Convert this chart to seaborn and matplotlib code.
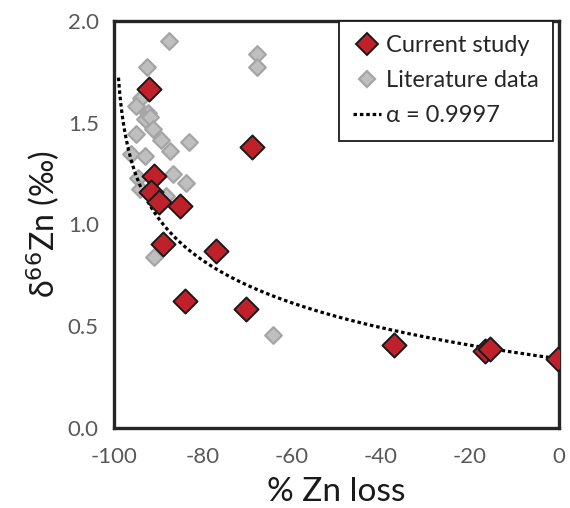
import numpy as np
import pandas as pd
import matplotlib
matplotlib.use("Agg")
import matplotlib.pyplot as plt
import seaborn as sns
from matplotlib.lines import Line2D

# ---- data ----
current_x = [-92.2, -69.1, -90.9, -91.6, -89.8, -85.2, -89.0, -77.0, -84.1, -70.4,
             -37.1, -16.6, -15.4, -0.2]
current_y = [1.665, 1.383, 1.238, 1.160, 1.112, 1.090, 0.906, 0.868, 0.622, 0.585,
             0.409, 0.376, 0.389, 0.338]

lit_x = [-87.7, -67.8, -67.8, -92.6, -93.9, -95.0, -92.4, -93.1, -92.0, -91.3,
         -95.0, -89.4, -83.2, -96.1, -93.1, -87.4, -94.6, -86.8, -83.8, -94.1,
         -88.3, -90.9, -64.3]
lit_y = [1.900, 1.837, 1.772, 1.772, 1.624, 1.580, 1.550, 1.520, 1.530, 1.470,
         1.443, 1.415, 1.407, 1.345, 1.336, 1.361, 1.230, 1.246, 1.205, 1.176,
         1.140, 0.841, 0.458]

# Rayleigh model parameters (stated in the legend)
alpha = 0.9997
delta0 = 0.34
model_start = -99.0

x_ticks = [-100, -80, -60, -40, -20, 0]
y_ticks = [0.0, 0.5, 1.0, 1.5, 2.0]
legend_labels = ["Current study", "Literature data", "α = 0.9997"]

# ---- style ----
sns.set_theme(style="white")
plt.rcParams['font.family'] = ['Lato', 'Open Sans', 'DejaVu Sans']

RED = "#C0202A"
GRAY = "#BFBFBF"
GRAY_EDGE = "#A5A5A5"
DOT = (0, (1.1, 0.9))

fig = plt.figure(figsize=(5.70, 5.08), dpi=100)
ax = fig.add_axes([114/570, 1 - 428/508, 445/570, 407/508])

df_cur = pd.DataFrame({"x": current_x, "y": current_y})
df_lit = pd.DataFrame({"x": lit_x, "y": lit_y})

sns.scatterplot(data=df_lit, x="x", y="y", marker="D", s=72, color=GRAY,
                edgecolor=GRAY_EDGE, linewidth=1.6, ax=ax, zorder=2, legend=False)

fx = np.linspace(model_start, 0, 400)
line_df = pd.DataFrame({"x": fx, "y": delta0 + (alpha - 1) * 1000 * np.log(1 + fx / 100)})
sns.lineplot(data=line_df, x="x", y="y", color="black", lw=2.3,
             linestyle=DOT, ax=ax, zorder=3, legend=False)

sns.scatterplot(data=df_cur, x="x", y="y", marker="D", s=150, color=RED,
                edgecolor="#1a1a1a", linewidth=1.4, ax=ax, zorder=4, legend=False)

ax.set_xlim(-100, 0)
ax.set_ylim(0, 2.0)
ax.set_xticks(x_ticks)
ax.set_yticks(y_ticks)
ax.set_xticklabels([str(t) for t in x_ticks])
ax.set_yticklabels([f"{t:.1f}" for t in y_ticks])

for sp in ax.spines.values():
    sp.set_visible(True)
    sp.set_color("#262626")
    sp.set_linewidth(2.4)

ax.tick_params(axis="both", direction="in", length=5, width=1.2, color="#262626",
               labelsize=16, labelcolor="#595959")
ax.tick_params(axis="x", pad=14)
ax.tick_params(axis="y", pad=11)

ax.set_xlabel("% Zn loss", fontsize=24, color="#1a1a1a", labelpad=7)
ax.set_ylabel("δ$^{66}$Zn (‰)", fontsize=23, color="#1a1a1a", labelpad=4)

handles = [
    Line2D([], [], marker="D", linestyle="none", markersize=11.5,
           markerfacecolor=RED, markeredgecolor="#1a1a1a", markeredgewidth=1.4),
    Line2D([], [], marker="D", linestyle="none", markersize=8,
           markerfacecolor=GRAY, markeredgecolor=GRAY_EDGE, markeredgewidth=1.6),
    Line2D([], [], color="black", lw=2.3, linestyle=DOT),
]
leg = ax.legend(handles, legend_labels, loc="upper right",
                bbox_to_anchor=(1.0 - 6/445, 1.0),
                borderaxespad=0, frameon=True, fancybox=False, fontsize=17,
                handlelength=1.2, handletextpad=0.2, labelspacing=0.6,
                borderpad=0.6, edgecolor="#1a1a1a")
leg.get_frame().set_linewidth(1.3)
leg.get_frame().set_alpha(1)

fig.savefig("out.png", dpi=100)
